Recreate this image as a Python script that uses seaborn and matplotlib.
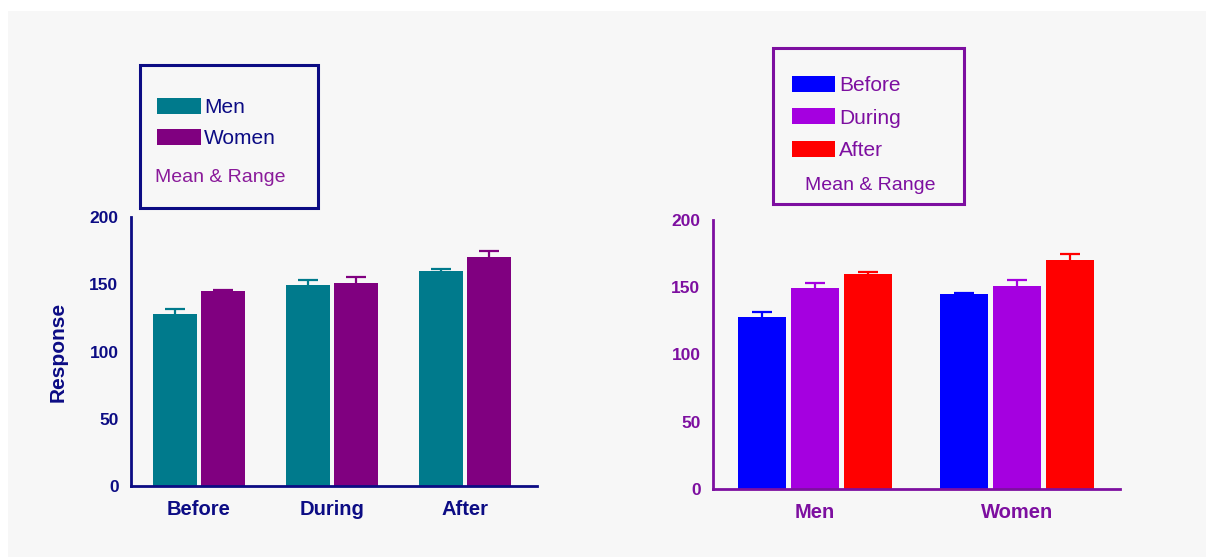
"""Two grouped bar panels (mean & range) of a before/during/after response."""

import matplotlib.pyplot as plt
import pandas as pd
import seaborn as sns
from matplotlib.patches import Rectangle

# data
SEXES = ["Men", "Women"]
PERIODS = ["Before", "During", "After"]
MEN_MEAN = [128, 149.5, 160]
WOMEN_MEAN = [145, 151, 170.5]
MEN_UPPER = [131.5, 153.5, 161]
WOMEN_UPPER = [145.5, 155.5, 175]
Y_TICKS = [0, 50, 100, 150, 200]

SEX_COLORS = {"Men": "#007a8c", "Women": "#800080"}
PERIOD_COLORS = {"Before": "#0000ff", "During": "#a500e0", "After": "#ff0000"}
NAVY = "#0c0c84"
PURPLE = "#7d0fa0"

W, H = 1206, 557


def fx(px):
    return px / W


def fy(py):
    return 1 - py / H


def build_frame():
    rows = []
    for sex, means, uppers in [("Men", MEN_MEAN, MEN_UPPER), ("Women", WOMEN_MEAN, WOMEN_UPPER)]:
        for period, m, u in zip(PERIODS, means, uppers):
            rows.append({"Sex": sex, "Period": period, "Mean": m, "Upper": u})
    return pd.DataFrame(rows)


def style_axis(ax, color, xlim):
    for side in ["top", "right"]:
        ax.spines[side].set_visible(False)
    for side in ["left", "bottom"]:
        ax.spines[side].set_color(color)
        ax.spines[side].set_linewidth(2.0)
    ax.set_ylim(0, 200)
    ax.set_xlim(*xlim)
    ax.set_yticks(Y_TICKS)
    ax.tick_params(axis="y", colors=color, length=6, width=2, pad=3, labelsize=12.5)
    ax.tick_params(axis="x", colors=color, length=7, width=2, pad=3, labelsize=14.5)
    for lab in ax.get_xticklabels() + ax.get_yticklabels():
        lab.set_fontweight("bold")
    ax.set_xlabel("")
    ax.set_ylabel("")
    ax.set_facecolor("none")
    ax.grid(False)


def add_range_bars(ax, df, x, hue, x_order, hue_order):
    # seaborn adds patches hue by hue, categories in order
    for patch, (h, c) in zip(ax.patches, [(h, c) for h in hue_order for c in x_order]):
        row = df[(df[x] == c) & (df[hue] == h)].iloc[0]
        cx = patch.get_x() + patch.get_width() / 2
        _, caps, _ = ax.errorbar(cx, row["Mean"], yerr=[[0], [row["Upper"] - row["Mean"]]],
                                 fmt="none", ecolor=patch.get_facecolor(), elinewidth=1.6,
                                 capsize=7, capthick=1.6)
        caps[0].set_visible(False)  # range only drawn upward


def add_box(fig, x0, y0, x1, y1, color):
    fig.add_artist(Rectangle((fx(x0), fy(y1)), fx(x1 - x0), fy(y0) - fy(y1),
                             transform=fig.transFigure, fill=False,
                             edgecolor=color, linewidth=2.2))


def main():
    df = build_frame()
    sns.set_theme(style="white")
    plt.rcParams["font.family"] = ["Liberation Sans", "DejaVu Sans"]

    fig = plt.figure(figsize=(W / 100, H / 100), dpi=100, facecolor="white")
    fig.add_artist(Rectangle((fx(8), 0), 1, fy(11), transform=fig.transFigure,
                             facecolor="#f7f7f7", edgecolor="none", zorder=-10))

    # left panel: periods on x, sex as hue
    ax1 = fig.add_axes([fx(131), fy(486), fx(537 - 131), fy(217) - fy(486)])
    sns.barplot(data=df, x="Period", y="Mean", hue="Sex", order=PERIODS,
                hue_order=SEXES, palette=SEX_COLORS, width=0.72, gap=0.07,
                saturation=1, errorbar=None, linewidth=0, ax=ax1)
    add_range_bars(ax1, df, "Period", "Sex", PERIODS, SEXES)
    style_axis(ax1, NAVY, (-0.51, 2.54))
    ax1.set_ylabel("Response", color=NAVY, fontsize=15, fontweight="bold", labelpad=16)
    handles, labels = ax1.get_legend_handles_labels()
    ax1.legend(handles[:2], labels[:2], loc="upper left",
               bbox_to_anchor=(fx(157), fy(98)), bbox_transform=fig.transFigure,
               frameon=False, borderpad=0, borderaxespad=0, fontsize=15,
               handlelength=2.1, handleheight=0.82, handletextpad=0.15,
               labelspacing=0.55, labelcolor=NAVY)
    add_box(fig, 140, 65, 318, 208, NAVY)
    fig.text(fx(155), fy(177), "Mean & Range", color="#8a1a9a", fontsize=14,
             ha="left", va="center")

    # right panel: sex on x, period as hue
    ax2 = fig.add_axes([fx(713), fy(489), fx(1120 - 713), fy(220) - fy(489)])
    sns.barplot(data=df, x="Sex", y="Mean", hue="Period", order=SEXES,
                hue_order=PERIODS, palette=PERIOD_COLORS, width=0.79, gap=0.1,
                saturation=1, errorbar=None, linewidth=0, ax=ax2)
    add_range_bars(ax2, df, "Sex", "Period", SEXES, PERIODS)
    style_axis(ax2, PURPLE, (-0.505, 1.51))
    handles, labels = ax2.get_legend_handles_labels()
    ax2.legend(handles[:3], labels[:3], loc="upper left",
               bbox_to_anchor=(fx(792), fy(76)), bbox_transform=fig.transFigure,
               frameon=False, borderpad=0, borderaxespad=0, fontsize=15,
               handlelength=2.05, handleheight=0.82, handletextpad=0.2,
               labelspacing=0.62, labelcolor=PURPLE)
    add_box(fig, 773, 48, 964, 204, PURPLE)
    fig.text(fx(870), fy(186), "Mean & Range", color=PURPLE, fontsize=14,
             ha="center", va="center")

    fig.savefig("out.png", dpi=100, facecolor=fig.get_facecolor())
    plt.close(fig)


if __name__ == "__main__":
    main()
